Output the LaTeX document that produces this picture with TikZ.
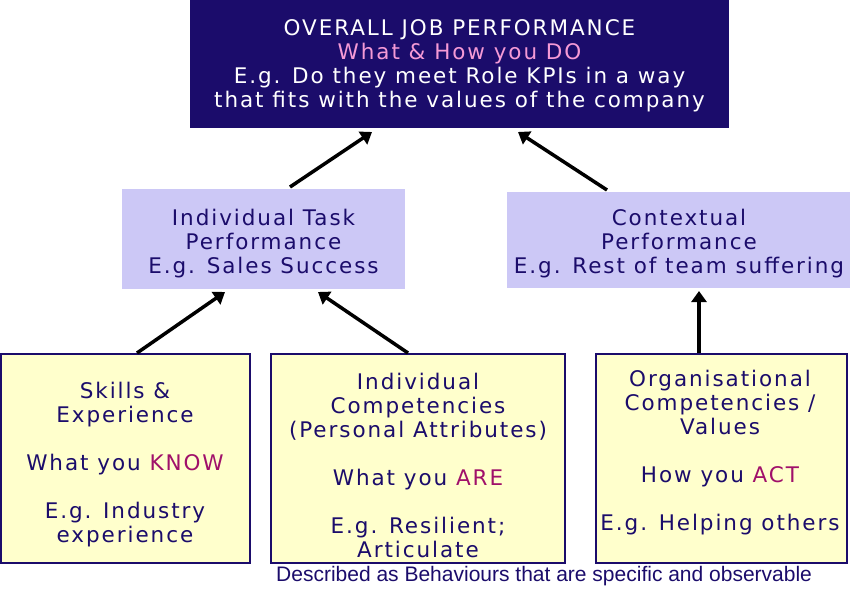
\documentclass[tikz,border=0pt]{standalone}
\usepackage{fontspec}
\usetikzlibrary{arrows.meta}
\setmainfont{DejaVu Sans}[LetterSpace=9]
\newfontfamily\capfont{Liberation Sans}
\definecolor{navy}{HTML}{1B0C6B}
\definecolor{lilac}{HTML}{CCC8F6}
\definecolor{cream}{HTML}{FFFFCC}
\definecolor{plum}{HTML}{A0106A}
\definecolor{pinkish}{HTML}{F59AD6}
\begin{document}
\begin{tikzpicture}[x=1pt, y=-1pt,
    topbox/.style={fill=navy, text=white, align=center, inner sep=0pt, font=\fontsize{21.5}{24}\selectfont},
    midbox/.style={fill=lilac, text=navy, align=center, inner sep=0pt, font=\fontsize{21.5}{24}\selectfont},
    basebox/.style={fill=cream, draw=navy, line width=1.5pt},
    uparrow/.style={-{Triangle[length=11pt,width=15pt]}, line width=3.5pt}]

    \clip (0,0) rectangle (850,608);
    \fill[white] (0,0) rectangle (850,608);

    % Top box
    \fill[navy] (190,0) rectangle (729,128);
    \node[topbox] (overall) at (459.5,66) {OVERALL JOB PERFORMANCE\\
    \textcolor{pinkish}{What \& How you DO}\\
    E.g. Do they meet Role KPIs in a way\\
    that fits with the values of the company};

    % Middle boxes
    \fill[lilac] (122,189) rectangle (405,289);
    \node[midbox] (task) at (263.5,244) {Individual Task\\Performance\\E.g. Sales Success};
    \fill[lilac] (507,192) rectangle (850,288);
    \node[midbox] (context) at (679,244) {Contextual\\Performance\\E.g. Rest of team suffering};

    % Bottom boxes
    \draw[basebox] (1,354) rectangle (250,563);
    \node[midbox, fill=none] (skills) at (125,465) {Skills \&\\Experience\\[24pt]What you \textcolor{plum}{KNOW}\\[24pt]E.g. Industry\\experience};
    \draw[basebox] (271,354) rectangle (565,563);
    \node[midbox, fill=none] (indiv) at (418,465) {Individual\\Competencies\\(Personal Attributes)\\[24pt]What you \textcolor{plum}{ARE}\\[24pt]E.g. Resilient;\\Articulate};
    \draw[basebox] (596,354) rectangle (847,563);
    \node[midbox, fill=none] (org) at (720,453) {Organisational\\Competencies /\\Values\\[24pt]How you \textcolor{plum}{ACT}\\[24pt]E.g. Helping others};

    % Arrows
    \coordinate (a1) at (290,187); \coordinate (b1) at (372,132);
    \coordinate (a2) at (607,190); \coordinate (b2) at (518,132);
    \coordinate (a3) at (137,353); \coordinate (b3) at (225,292);
    \coordinate (a4) at (408,353); \coordinate (b4) at (318,292);
    \coordinate (a5) at (699,353); \coordinate (b5) at (699,291);
    \foreach \i in {1,...,5}
        \draw[uparrow] (a\i) -- (b\i);

    % Caption
    \node[anchor=west, text=navy, inner sep=0pt, font=\capfont\fontsize{21}{24}\selectfont] (caption) at (276,576) {Described as Behaviours that are specific and observable};

\end{tikzpicture}
\end{document}
